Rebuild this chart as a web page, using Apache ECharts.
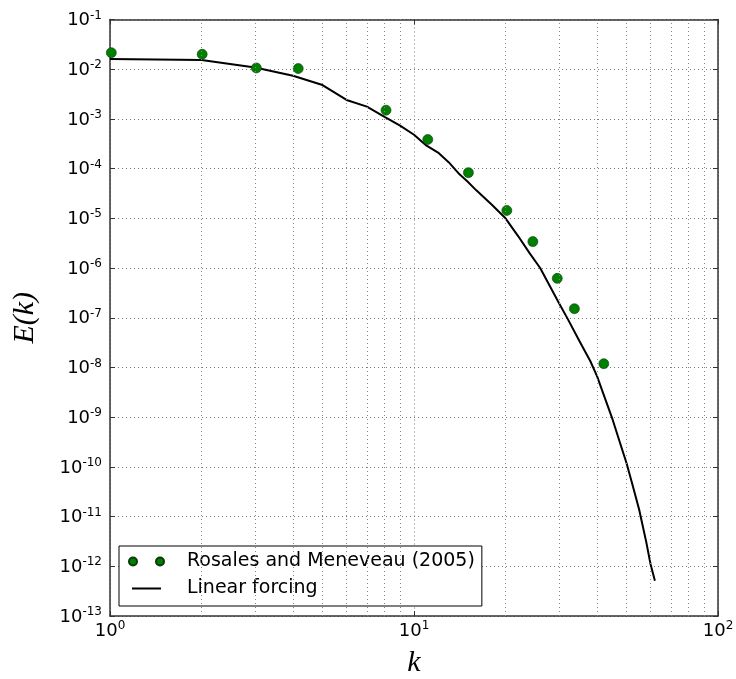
<!DOCTYPE html>
<html>
<head>
<meta charset="utf-8">
<script src="https://cdn.jsdelivr.net/npm/echarts@6/dist/echarts.min.js"></script>
<style>
  html, body { margin: 0; padding: 0; background: #fff; }
  #chart { width: 736px; height: 679px; }
</style>
</head>
<body>
<div id="chart"></div>
<script>
// Energy spectrum E(k): reference data points and linear-forcing curve
const refK = [1.01, 2.01, 3.03, 4.16, 8.09, 11.1, 15.1, 20.2, 24.6, 29.6, 33.7, 42.1];
const refE = [0.0215, 0.0200, 0.0106, 0.0103, 1.5e-3, 3.85e-4, 8.3e-5, 1.44e-5, 3.4e-6, 6.2e-7, 1.52e-7, 1.19e-8];

const lfK = [1, 2, 3, 4, 5, 6, 7, 8, 9, 10, 11, 12, 13, 14, 15, 16, 18, 20, 22, 24, 26, 28, 30, 32, 35, 38, 40, 42, 45, 48, 50, 52, 55, 58, 60, 62];
const lfE = [0.0161, 0.0153, 0.0108, 0.0074, 0.0048, 2.41e-3, 1.77e-3, 1.1e-3, 7.3e-4, 4.8e-4,
             2.9e-4, 2.1e-4, 1.35e-4, 8.1e-5, 5.5e-5, 3.7e-5, 1.9e-5, 1.0e-5, 4.4e-6, 2.0e-6,
             1.0e-6, 4.3e-7, 1.95e-7, 9.6e-8, 3.4e-8, 1.35e-8, 6.7e-9, 2.9e-9, 9.0e-10, 2.6e-10,
             1.2e-10, 5.0e-11, 1.4e-11, 3.2e-12, 1.1e-12, 5.1e-13];

// minor vertical grid positions on the k axis
const minorK = [2, 3, 4, 5, 6, 7, 8, 9, 20, 30, 40, 50, 60, 70, 80, 90];

const seriesNames = ['Rosales and Meneveau (2005)', 'Linear forcing'];

const gridLine = { show: true, lineStyle: { color: '#777', width: 1, type: [1, 3] } };
const axisLineStyle = { show: true, lineStyle: { color: '#333', width: 1.5 } };

function powLabel(v) {
  const e = Math.round(Math.log10(v));
  return '{b|10}{s|' + e + '}';
}
const richPow = {
  b: { fontSize: 18, fontFamily: 'DejaVu Sans', color: '#000', verticalAlign: 'bottom', lineHeight: 20 },
  s: { fontSize: 12, fontFamily: 'DejaVu Sans', color: '#000', verticalAlign: 'top', lineHeight: 20 }
};

// legend handles: two marker dots, and a short solid stroke
const dotsIcon = 'path://M0,4a4,4 0 1,0 8,0a4,4 0 1,0 -8,0M27,4a4,4 0 1,0 8,0a4,4 0 1,0 -8,0';
const strokeIcon = 'path://M-3,0h0.01v0.01h-0.01ZM0,0H29V2H0ZM32,0h0.01v0.01h-0.01Z';

const chart = echarts.init(document.getElementById('chart'), null, { renderer: 'canvas' });

chart.setOption({
  animation: false,
  backgroundColor: '#fff',
  grid: { left: 110, right: 18, top: 19.5, bottom: 63, containLabel: false, outerBoundsMode: 'none' },
  xAxis: [
    {
      type: 'log', logBase: 10, min: 1, max: 100, interval: 1,
      name: 'k', nameLocation: 'middle', nameGap: 32,
      nameTextStyle: { fontFamily: 'Liberation Serif', fontStyle: 'italic', fontSize: 30, color: '#000' },
      axisLine: axisLineStyle,
      axisTick: { show: true, inside: true, length: 5, lineStyle: { color: '#333', width: 1 } },
      axisLabel: { margin: 4, formatter: powLabel, rich: richPow },
      splitLine: gridLine
    },
    {
      type: 'log', logBase: 10, min: 1, max: 100, interval: 1, position: 'top',
      axisLine: axisLineStyle,
      axisTick: { show: true, inside: true, length: 5, lineStyle: { color: '#333', width: 1 } },
      axisLabel: { show: false },
      splitLine: { show: false }
    }
  ],
  yAxis: [
    {
      type: 'log', logBase: 10, min: 1e-13, max: 1e-1, interval: 1,
      name: 'E(k)', nameLocation: 'middle', nameGap: 70, nameRotate: 90,
      nameTextStyle: { fontFamily: 'Liberation Serif', fontStyle: 'italic', fontSize: 30, color: '#000' },
      axisLine: axisLineStyle,
      axisTick: { show: true, inside: true, length: 5, lineStyle: { color: '#333', width: 1 } },
      axisLabel: { margin: 8, formatter: powLabel, rich: richPow },
      splitLine: gridLine
    },
    {
      type: 'log', logBase: 10, min: 1e-13, max: 1e-1, interval: 1, position: 'right',
      axisLine: axisLineStyle,
      axisTick: { show: true, inside: true, length: 5, lineStyle: { color: '#333', width: 1 } },
      axisLabel: { show: false },
      splitLine: { show: false }
    }
  ],
  legend: {
    orient: 'vertical',
    left: 119, top: 546,
    padding: [6, 7, 8, 9],
    itemGap: 8,
    itemWidth: 35, itemHeight: 9,
    symbolKeepAspect: true,
    backgroundColor: '#fff',
    borderColor: '#000', borderWidth: 1, borderRadius: 0,
    textStyle: { fontFamily: 'DejaVu Sans', fontSize: 19, color: '#000', padding: [0, 0, 0, 18] },
    data: [
      { name: seriesNames[0], icon: dotsIcon },
      { name: seriesNames[1], icon: strokeIcon }
    ]
  },
  series: [
    {
      name: 'grid-minor', type: 'line', data: [], silent: true,
      markLine: {
        silent: true, symbol: 'none', label: { show: false },
        lineStyle: { color: '#888', width: 1, type: [1, 3] },
        animation: false,
        data: minorK.map(v => ({ xAxis: v }))
      }
    },
    {
      name: seriesNames[1], type: 'line', z: 3,
      data: lfK.map((k, i) => [k, lfE[i]]),
      symbol: 'none', showSymbol: false,
      lineStyle: { color: '#000', width: 2 },
      itemStyle: { color: '#000' }
    },
    {
      name: seriesNames[0], type: 'scatter', z: 4,
      data: refK.map((k, i) => [k, refE[i]]),
      symbol: 'circle', symbolSize: 10,
      itemStyle: { color: '#008000', borderColor: '#0a3a0a', borderWidth: 0.6, opacity: 1 }
    }
  ]
});
</script>
</body>
</html>
